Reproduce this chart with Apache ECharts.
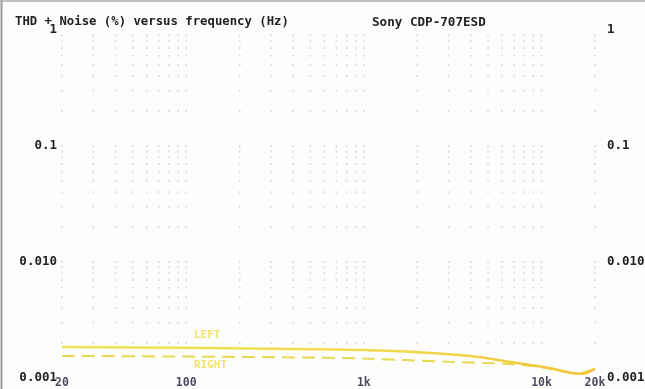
<!DOCTYPE html>
<html><head><meta charset="utf-8">
<script src="https://cdn.jsdelivr.net/npm/echarts@6/dist/echarts.min.js"></script>
<style>html,body{margin:0;padding:0;background:#fdfdfb}#c{width:645px;height:389px}</style>
</head><body><div id="c"></div>
<script>
const titleLeft = "THD + Noise (%) versus frequency (Hz)";
const titleRight = "Sony CDP-707ESD";
const xTickValues = [20, 100, 1000, 10000, 20000];
const xTickLabels = ["20", "100", "1k", "10k", "20k"];
const yTickLabels = {"1": "1", "0.1": "0.1", "0.01": "0.010", "0.001": "0.001"};

const leftFreq  = [20, 100, 500, 1000, 2000, 4000, 7000, 11000, 14500, 17000, 20000];
const leftVals  = [0.00185, 0.00182, 0.00177, 0.00174, 0.00167, 0.00155, 0.00136, 0.00122, 0.00111, 0.00109, 0.0012];
const rightFreq = [20, 100, 500, 1000, 3000, 6500, 10000, 13000, 15500, 20000];
const rightVals = [0.00155, 0.00153, 0.0015, 0.00147, 0.00138, 0.00132, 0.00124, 0.00115, 0.00109, 0.0012];

const gridFreqs = [20,30,40,50,60,70,80,90,100,200,300,400,500,600,700,800,900,1000,2000,3000,4000,5000,6000,7000,8000,9000,10000,20000];
const gridLevels = [0.002,0.003,0.004,0.005,0.006,0.007,0.008,0.009,0.01,0.02,0.03,0.04,0.05,0.06,0.07,0.08,0.09,0.1,0.2,0.3,0.4,0.5,0.6,0.7,0.8,0.9];

const dots = [];
gridFreqs.forEach(f => gridLevels.forEach(v => dots.push([f, v])));

const chart = echarts.init(document.getElementById('c'));
const lblFont = {fontFamily: 'DejaVu Sans Mono', fontWeight: 'bold', fontSize: 12.5, color: '#222'};
chart.setOption({
  backgroundColor: '#fdfdfb',
  animation: false,
  grid: {left: 62, right: 50, top: 30, bottom: 11, containLabel: false, outerBoundsMode: 'none'},
  title: [
    {text: titleLeft, left: 10, top: 11, textStyle: {fontFamily: 'DejaVu Sans Mono', fontWeight: 'bold', fontSize: 12.3, color: '#222'}},
    {text: titleRight, left: 367, top: 11, textStyle: {fontFamily: 'DejaVu Sans Mono', fontWeight: 'bold', fontSize: 12.6, color: '#222'}}
  ],
  graphic: [
    {type: 'line', shape: {x1: 1.5, y1: 0, x2: 1.5, y2: 389}, style: {stroke: '#999', lineWidth: 2}},
    {type: 'line', shape: {x1: 0, y1: 1, x2: 645, y2: 1}, style: {stroke: '#aaa', lineWidth: 1.5}},
    {type: 'text', left: 194, top: 330, style: {text: 'LEFT', fill: '#f1e36c', font: 'bold 11px DejaVu Sans Mono'}},
    {type: 'text', left: 194, top: 360, style: {text: 'RIGHT', fill: '#f1e36c', font: 'bold 11px DejaVu Sans Mono'}}
  ],
  xAxis: {type: 'log', logBase: 10, min: 20, max: 20000,
    axisLine: {show: false}, axisTick: {show: false}, axisLabel: {show: false}, splitLine: {show: false}},
  yAxis: [
    {type: 'log', logBase: 10, min: 0.001, max: 1, position: 'left',
      axisLine: {show: false}, axisTick: {show: false}, splitLine: {show: false},
      axisLabel: Object.assign({margin: 5, formatter: v => yTickLabels[String(+v.toPrecision(3))] || ''}, lblFont)},
    {type: 'log', logBase: 10, min: 0.001, max: 1, position: 'right',
      axisLine: {show: false}, axisTick: {show: false}, splitLine: {show: false},
      axisLabel: Object.assign({margin: 12, formatter: v => yTickLabels[String(+v.toPrecision(3))] || ''}, lblFont)}
  ],
  series: [
    {type: 'scatter', data: dots, symbol: 'rect', symbolSize: [1.5, 2], itemStyle: {color: '#cfcfcf'}, silent: true, z: 1},
    {type: 'line', name: 'RIGHT', data: rightFreq.map((f, i) => [f, rightVals[i]]), smooth: 0.3, showSymbol: false,
      lineStyle: {color: '#e8da50', width: 2, type: [13, 7]}, z: 3},
    {type: 'line', name: 'LEFT', data: leftFreq.map((f, i) => [f, leftVals[i]]), smooth: 0.3, showSymbol: false,
      lineStyle: {width: 2.5, color: {type: 'linear', x: 0, y: 0, x2: 1, y2: 0,
        colorStops: [{offset: 0, color: '#ede55a'}, {offset: 0.6, color: '#f2da4a'}, {offset: 1, color: '#f2c23a'}]}}, z: 4},
    {type: 'scatter', data: xTickValues.map(f => [f, 0.001]), symbolSize: 0, silent: true,
      label: {show: true, position: 'bottom', distance: -1, formatter: p => xTickLabels[p.dataIndex],
        fontFamily: 'DejaVu Sans Mono', fontWeight: 'bold', fontSize: 11.5, color: '#1c1c3c'}}
  ]
});
</script></body></html>
